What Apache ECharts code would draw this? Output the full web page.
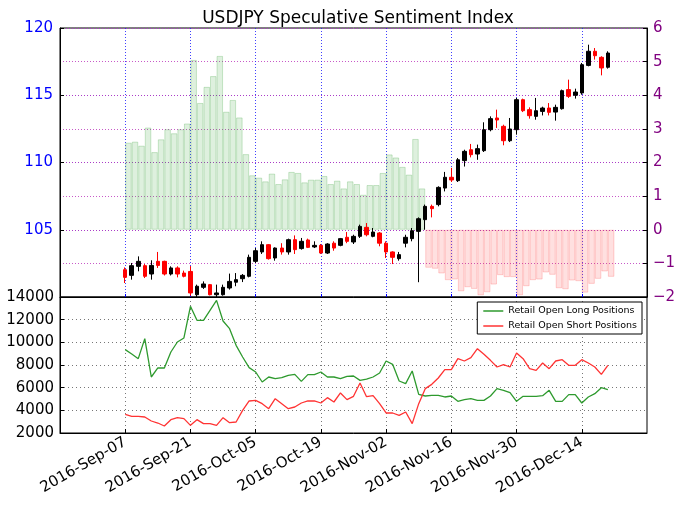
<!DOCTYPE html>
<html>
<head>
<meta charset="utf-8">
<script src="https://cdn.jsdelivr.net/npm/echarts@6/dist/echarts.min.js"></script>
<style>html,body{margin:0;padding:0;background:#fff}#c{width:680px;height:507px}</style>
</head>
<body>
<div id="c"></div>
<script>
const monthNames = ['Jan','Feb','Mar','Apr','May','Jun','Jul','Aug','Sep','Oct','Nov','Dec'];
// Axis categories: trading (week) days shown on the chart's date axis
const axisStart = '2016-08-24', axisEnd = '2016-12-28';
const firstDataDate = '2016-Sep-07';
const tickLabels = ['2016-Sep-07','2016-Sep-21','2016-Oct-05','2016-Oct-19','2016-Nov-02','2016-Nov-16','2016-Nov-30','2016-Dec-14'];

const openP = [102.03,101.61,102.28,102.33,101.71,102.65,102.65,101.71,102.16,101.78,
  101.90,100.17,100.72,100.92,100.17,100.17,100.67,101.10,101.36,101.54,
  102.65,103.35,103.89,102.90,103.64,103.35,104.26,103.60,104.24,103.72,
  103.84,103.27,104.00,103.84,104.44,104.09,104.51,105.18,104.51,104.76,
  104.00,103.35,102.85,104.00,104.34,104.88,105.75,106.74,106.87,108.10,
  108.90,108.65,110.14,110.95,110.63,110.88,112.44,113.31,112.69,111.62,
  112.44,114.67,113.93,113.43,113.80,114.05,113.75,114.00,115.42,115.00,
  115.17,117.22,118.27,117.82,117.08];
const closeP = [101.46,102.33,102.65,101.54,102.35,102.35,101.71,102.16,101.71,101.54,
  100.30,100.80,100.97,100.17,100.30,100.72,101.16,101.29,101.61,102.95,
  103.44,103.89,102.85,103.64,103.35,104.26,103.52,104.14,103.69,103.84,
  103.27,103.94,103.64,104.34,104.14,104.51,105.25,104.63,104.83,104.00,
  103.35,102.95,103.15,104.44,104.93,105.82,106.74,106.57,108.15,108.90,
  108.70,110.20,110.83,110.58,111.03,112.44,113.26,113.16,111.62,112.49,
  114.67,113.85,113.48,113.85,114.05,113.73,114.10,115.34,114.92,115.24,
  117.27,118.27,117.94,117.03,118.14];
const lowP = [101.04,101.29,101.91,101.41,101.29,102.16,101.60,101.60,101.46,101.46,
  100.10,100.00,100.60,100.12,100.00,100.10,100.55,100.80,101.11,101.46,
  102.53,103.20,102.78,102.70,103.15,103.15,103.20,103.52,103.64,103.64,
  103.20,103.20,103.44,103.77,104.00,103.94,104.39,104.51,104.44,103.77,
  102.90,102.45,102.70,103.69,104.14,101.10,105.00,105.92,106.74,107.85,
  108.55,108.55,109.70,110.38,110.20,110.78,112.32,112.57,111.28,111.52,
  112.07,113.75,113.26,113.18,113.50,113.50,113.11,113.93,114.80,114.75,
  115.04,117.15,117.65,116.48,116.98];
const highP = [102.20,102.53,103.02,102.45,102.73,103.35,102.70,102.28,102.28,101.96,
  102.30,100.92,101.16,100.97,100.92,100.92,101.74,101.78,101.71,103.15,
  103.64,104.14,103.94,103.69,104.00,104.34,104.58,104.39,104.34,104.14,
  103.94,104.00,104.14,104.39,104.83,104.63,105.38,105.50,105.13,104.83,
  104.14,103.40,103.35,104.63,105.13,105.92,106.87,106.87,108.23,109.30,
  109.60,110.33,110.95,111.38,111.33,112.99,113.43,113.93,112.81,113.31,
  114.80,114.75,114.10,114.80,114.15,114.42,114.30,115.42,116.16,115.49,
  117.40,118.76,118.51,117.90,118.27];
const sentiment = [2.59,2.62,2.50,3.04,2.31,2.69,2.99,2.87,2.99,3.16,
  5.05,3.77,4.25,4.57,5.17,3.51,3.86,3.34,2.25,1.62,
  1.55,1.44,1.67,1.36,1.50,1.72,1.69,1.41,1.49,1.49,
  1.60,1.36,1.46,1.23,1.44,1.36,1.04,1.33,1.33,1.69,
  2.24,2.15,1.87,1.64,2.70,1.23,-1.13,-1.16,-1.30,-1.50,
  -1.48,-1.83,-1.71,-1.76,-1.95,-1.86,-1.63,-1.35,-1.41,-1.41,
  -1.95,-1.68,-1.50,-1.48,-1.27,-1.34,-1.74,-1.77,-1.51,-1.53,
  -1.87,-1.61,-1.46,-1.24,-1.40];
const longPos = [9353,8970,8559,10324,6941,7736,7736,9147,10030,10383,
  13176,11941,11941,12824,13706,11882,11206,9735,8706,7765,
  7382,6500,6941,6794,6882,7088,7176,6559,7147,7147,
  7382,6941,6941,6794,7000,7030,6647,6750,6941,7294,
  8353,8059,6588,6353,7471,5412,5265,5324,5324,5177,
  5265,4794,4941,5030,4882,4882,5265,5912,5765,5559,
  4794,5235,5235,5235,5294,5765,4794,4794,5383,5383,
  4647,5177,5471,6000,5824];
const shortPos = [3647,3471,3471,3412,3059,2882,2618,3176,3353,3265,
  2676,3176,2824,2824,2676,3353,2912,2971,4000,4824,
  4882,4588,4147,5030,4588,4147,4294,4647,4824,4824,
  4647,5118,4735,5530,4941,5235,6412,5200,5294,4588,
  3765,3765,3559,3853,2824,4588,5912,6294,6853,7588,
  7588,8559,8353,8647,9441,8941,8412,7824,8030,7824,
  9059,8559,7676,7529,8176,7676,8353,8471,7971,7971,
  8471,8176,7824,7176,7971];

function fmtDate(d){
  return d.getUTCFullYear() + '-' + monthNames[d.getUTCMonth()] + '-' + String(d.getUTCDate()).padStart(2,'0');
}
const categories = [];
{
  const end = new Date(axisEnd + 'T00:00:00Z');
  for (let d = new Date(axisStart + 'T00:00:00Z'); d <= end; d.setUTCDate(d.getUTCDate() + 1)) {
    const wd = d.getUTCDay();
    if (wd !== 0 && wd !== 6) categories.push(fmtDate(d));
  }
}
const off = categories.indexOf(firstDataDate);
const n = openP.length;
const candleData = categories.map(() => '-');
const longData = categories.map(() => '-');
const shortData = categories.map(() => '-');
const barCats = categories.slice(0, categories.length - 1);
const barData = barCats.map(() => '-');
for (let i = 0; i < n; i++) {
  candleData[off + i] = [openP[i], closeP[i], lowP[i], highP[i]];
  longData[off + i] = longPos[i];
  shortData[off + i] = shortPos[i];
  const s = sentiment[i];
  barData[off + i] = {
    value: s,
    itemStyle: s >= 0
      ? { color: 'rgba(60,165,60,0.17)', borderColor: 'rgba(60,165,60,0.25)', borderWidth: 1 }
      : { color: 'rgba(255,60,60,0.16)', borderColor: 'rgba(255,60,60,0.22)', borderWidth: 1 }
  };
}
const isTick = (idx, val) => tickLabels.indexOf(val) >= 0;
const FONT = 'DejaVu Sans';

const chart = echarts.init(document.getElementById('c'), null, { renderer: 'canvas' });
chart.setOption({
  animation: false,
  backgroundColor: '#fff',
  textStyle: { fontFamily: FONT },
  title: {
    text: 'USDJPY Speculative Sentiment Index',
    left: 353, top: 5, textAlign: 'center',
    textStyle: { fontFamily: FONT, fontSize: 17, fontWeight: 'normal', color: '#000' }
  },
  legend: {
    data: ['Retail Open Long Positions', 'Retail Open Short Positions'],
    orient: 'vertical', right: 38, top: 302,
    icon: 'rect', itemWidth: 20, itemHeight: 1.5, itemGap: 5,
    borderColor: '#000', borderWidth: 1, padding: [4, 5, 3, 6],
    backgroundColor: '#fff',
    textStyle: { fontFamily: FONT, fontSize: 9.5, color: '#000' }
  },
  grid: [
    { left: 60, right: 33, top: 28, height: 269, show: true, borderColor: '#000', borderWidth: 1, backgroundColor: 'transparent' },
    { left: 60, right: 33, top: 297, height: 136, show: true, borderColor: '#000', borderWidth: 1, backgroundColor: 'transparent' }
  ],
  xAxis: [
    {
      gridIndex: 0, type: 'category', data: categories, boundaryGap: false,
      axisLine: { onZero: false, lineStyle: { color: '#000' } },
      axisLabel: { show: false },
      axisTick: { show: true, inside: true, length: 3, interval: isTick, lineStyle: { color: '#0000ff' } },
      splitLine: { show: true, interval: isTick, lineStyle: { color: 'rgba(30,30,255,0.85)', type: [1, 2], width: 1 } }
    },
    {
      gridIndex: 0, type: 'category', data: barCats, boundaryGap: true, show: false,
      axisLine: { show: false, onZero: false }
    },
    {
      gridIndex: 1, type: 'category', data: categories, boundaryGap: false,
      axisLine: { onZero: false, lineStyle: { color: '#000' } },
      axisTick: { show: true, inside: true, length: 4, interval: isTick, lineStyle: { color: '#000' } },
      axisLabel: { interval: isTick, rotate: 30, fontFamily: FONT, fontSize: 15, color: '#000', margin: 8 },
      splitLine: { show: true, interval: isTick, lineStyle: { color: '#777', type: [1, 3], width: 1 } }
    }
  ],
  yAxis: [
    {
      gridIndex: 0, type: 'value', position: 'left', min: 100, max: 120, interval: 5,
      axisLine: { show: true, onZero: false, lineStyle: { color: '#000' } },
      axisTick: { show: true, inside: true, length: 4, lineStyle: { color: '#000' } },
      axisLabel: { fontFamily: FONT, fontSize: 15, color: '#0000ff', margin: 7, formatter: v => v === 100 ? '' : String(v) },
      splitLine: { show: true, lineStyle: { color: 'rgba(30,30,255,0.85)', type: [1, 2], width: 1 } }
    },
    {
      gridIndex: 0, type: 'value', position: 'right', min: -2, max: 6, interval: 1,
      axisLine: { show: true, onZero: false, lineStyle: { color: '#000' } },
      axisTick: { show: true, inside: true, length: 4, lineStyle: { color: '#000' } },
      axisLabel: { fontFamily: FONT, fontSize: 15, color: '#800080', margin: 6, formatter: v => String(v).replace('-', '\u2212') },
      splitLine: { show: true, lineStyle: { color: 'rgba(190,60,190,0.85)', type: [1, 2], width: 1 } }
    },
    {
      gridIndex: 1, type: 'value', min: 2000, max: 14000, interval: 2000,
      axisLine: { show: true, onZero: false, lineStyle: { color: '#000' } },
      axisTick: { show: true, inside: true, length: 4, lineStyle: { color: '#000' } },
      axisLabel: { fontFamily: FONT, fontSize: 15, color: '#000', margin: 6, formatter: v => String(v) },
      splitLine: { show: true, lineStyle: { color: '#777', type: [1, 3], width: 1 } }
    }
  ],
  series: [
    {
      name: 'Sentiment', type: 'bar', xAxisIndex: 1, yAxisIndex: 1,
      data: barData, barWidth: '100%', barCategoryGap: '0%', z: 1
    },
    {
      name: 'USDJPY', type: 'candlestick', xAxisIndex: 0, yAxisIndex: 0,
      data: candleData, barWidth: 4, z: 3,
      itemStyle: { color: '#000', color0: '#ff0000', borderColor: '#000', borderColor0: '#ff0000', borderWidth: 1 }
    },
    {
      name: 'Retail Open Long Positions', type: 'line', xAxisIndex: 2, yAxisIndex: 2,
      data: longData, showSymbol: false,
      lineStyle: { color: '#2e9a2e', width: 1.3 }, itemStyle: { color: '#2e9a2e' }
    },
    {
      name: 'Retail Open Short Positions', type: 'line', xAxisIndex: 2, yAxisIndex: 2,
      data: shortData, showSymbol: false,
      lineStyle: { color: '#ff3333', width: 1.3 }, itemStyle: { color: '#ff3333' }
    }
  ]
});
</script>
</body>
</html>
